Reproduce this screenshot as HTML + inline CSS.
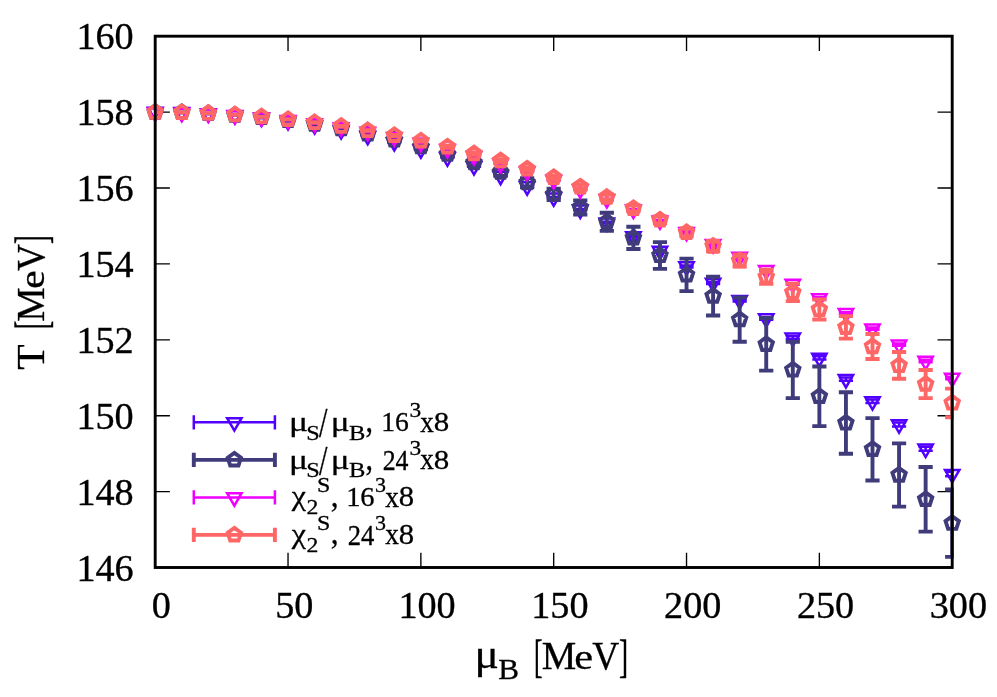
<!DOCTYPE html>
<html><head><meta charset="utf-8"><title>T vs mu_B</title>
<style>html,body{margin:0;padding:0;background:#fff}svg{display:block;will-change:transform}text{font-family:"Liberation Serif",serif;fill:#000}</style></head>
<body>
<svg width="997" height="697" viewBox="0 0 997 697">
<rect width="997" height="697" fill="#fff"/>
<defs><clipPath id="pc"><rect x="155.2" y="36.2" width="798.6" height="531.3"/></clipPath></defs>
<path d="M288.03 567.5v-14.7M288.03 36.2v14.7M420.87 567.5v-14.7M420.87 36.2v14.7M553.7 567.5v-14.7M553.7 36.2v14.7M686.53 567.5v-14.7M686.53 36.2v14.7M819.37 567.5v-14.7M819.37 36.2v14.7M155.2 491.6h14.7M952.2 491.6h-14.7M155.2 415.7h14.7M952.2 415.7h-14.7M155.2 339.8h14.7M952.2 339.8h-14.7M155.2 263.9h14.7M952.2 263.9h-14.7M155.2 188h14.7M952.2 188h-14.7M155.2 112.1h14.7M952.2 112.1h-14.7" stroke="#000" stroke-width="1.35" fill="none"/>
<g fill="none" stroke="#5200ff" stroke-width="2.5"><path clip-path="url(#pc)" d="M155.2 111.8V111.8M148.1 111.8H162.3M148.1 111.8H162.3M181.77 112.17V112.17M174.67 112.17H188.87M174.67 112.17H188.87M208.33 113.28V113.3M201.23 113.28H215.43M201.23 113.3H215.43M234.9 115.14V115.19M227.8 115.14H242M227.8 115.19H242M261.47 117.75V117.83M254.37 117.75H268.57M254.37 117.83H268.57M288.03 121.11V121.23M280.93 121.11H295.13M280.93 121.23H295.13M314.6 125.21V125.39M307.5 125.21H321.7M307.5 125.39H321.7M341.17 130.08V130.32M334.07 130.08H348.27M334.07 130.32H348.27M367.73 135.71V136.03M360.63 135.71H374.83M360.63 136.03H374.83M394.3 142.1V142.5M387.2 142.1H401.4M387.2 142.5H401.4M420.87 149.27V149.77M413.77 149.27H427.97M413.77 149.77H427.97M447.43 157.22V157.82M440.33 157.22H454.53M440.33 157.82H454.53M474 165.96V166.68M466.9 165.96H481.1M466.9 166.68H481.1M500.57 175.5V176.34M493.47 175.5H507.67M493.47 176.34H507.67M527.13 185.84V186.81M520.03 185.84H534.23M520.03 186.81H534.23M553.7 197V198.12M546.6 197H560.8M546.6 198.12H560.8M580.27 208.99V210.26M573.17 208.99H587.37M573.17 210.26H587.37M606.83 221.82V223.26M599.73 221.82H613.93M599.73 223.26H613.93M633.4 235.51V237.11M626.3 235.51H640.5M626.3 237.11H640.5M659.97 250.06V251.85M652.87 250.06H667.07M652.87 251.85H667.07M686.53 265.48V267.47M679.43 265.48H693.63M679.43 267.47H693.63M713.1 281.81V284M706 281.81H720.2M706 284H720.2M739.67 299.04V301.45M732.57 299.04H746.77M732.57 301.45H746.77M766.23 317.2V319.83M759.13 317.2H773.33M759.13 319.83H773.33M792.8 336.31V339.17M785.7 336.31H799.9M785.7 339.17H799.9M819.37 356.37V359.48M812.27 356.37H826.47M812.27 359.48H826.47M845.93 377.42V380.78M838.83 377.42H853.03M838.83 380.78H853.03M872.5 399.47V403.08M865.4 399.47H879.6M865.4 403.08H879.6M899.07 422.53V426.42M891.97 422.53H906.17M891.97 426.42H906.17M925.63 446.64V450.81M918.53 446.64H932.73M918.53 450.81H932.73M952.2 471.8V476.27M945.1 471.8H959.3M945.1 476.27H959.3"/><path stroke-linejoin="miter" d="M148.01 107.65L162.39 107.65L155.2 120.1ZM174.58 108.02L188.95 108.02L181.77 120.47ZM201.15 109.14L215.52 109.14L208.33 121.59ZM227.71 111.02L242.09 111.02L234.9 123.47ZM254.28 113.64L268.65 113.64L261.47 126.09ZM280.85 117.02L295.22 117.02L288.03 129.47ZM307.41 121.15L321.79 121.15L314.6 133.6ZM333.98 126.05L348.35 126.05L341.17 138.5ZM360.55 131.72L374.92 131.72L367.73 144.17ZM387.11 138.15L401.49 138.15L394.3 150.6ZM413.68 145.37L428.05 145.37L420.87 157.82ZM440.25 153.37L454.62 153.37L447.43 165.82ZM466.81 162.17L481.19 162.17L474 174.62ZM493.38 171.77L507.75 171.77L500.57 184.22ZM519.95 182.18L534.32 182.18L527.13 194.63ZM546.51 193.41L560.89 193.41L553.7 205.86ZM573.08 205.48L587.45 205.48L580.27 217.93ZM599.65 218.39L614.02 218.39L606.83 230.84ZM626.21 232.16L640.59 232.16L633.4 244.61ZM652.78 246.8L667.15 246.8L659.97 259.25ZM679.35 262.33L693.72 262.33L686.53 274.78ZM705.91 278.75L720.29 278.75L713.1 291.2ZM732.48 296.09L746.85 296.09L739.67 308.54ZM759.05 314.37L773.42 314.37L766.23 326.82ZM785.61 333.59L799.99 333.59L792.8 346.04ZM812.18 353.78L826.55 353.78L819.37 366.23ZM838.75 374.95L853.12 374.95L845.93 387.4ZM865.31 397.13L879.69 397.13L872.5 409.58ZM891.88 420.33L906.25 420.33L899.07 432.78ZM918.45 444.57L932.82 444.57L925.63 457.02ZM945.01 469.89L959.39 469.89L952.2 482.34Z"/></g>
<g fill="none" stroke="#403b7a" stroke-width="3.9"><path clip-path="url(#pc)" d="M155.2 112.1V112.1M148.1 112.1H162.3M148.1 112.1H162.3M181.77 112.43V112.43M174.67 112.43H188.87M174.67 112.43H188.87M208.33 113.42V113.43M201.23 113.42H215.43M201.23 113.43H215.43M234.9 115.07V115.1M227.8 115.07H242M227.8 115.1H242M261.47 117.37V117.47M254.37 117.37H268.57M254.37 117.47H268.57M288.03 120.33V120.55M280.93 120.33H295.13M280.93 120.55H295.13M314.6 123.96V124.39M307.5 123.96H321.7M307.5 124.39H321.7M341.17 128.25V129M334.07 128.25H348.27M334.07 129H348.27M367.73 133.22V134.42M360.63 133.22H374.83M360.63 134.42H374.83M394.3 138.87V140.71M387.2 138.87H401.4M387.2 140.71H401.4M420.87 145.22V147.9M413.77 145.22H427.97M413.77 147.9H427.97M447.43 152.26V156.04M440.33 152.26H454.53M440.33 156.04H454.53M474 160.03V165.19M466.9 160.03H481.1M466.9 165.19H481.1M500.57 168.77V175.66M493.47 168.77H507.67M493.47 175.66H507.67M527.13 178.19V187.18M520.03 178.19H534.23M520.03 187.18H534.23M553.7 188.8V200.03M546.6 188.8H560.8M546.6 200.03H560.8M580.27 200.33V214.6M573.17 200.33H587.37M573.17 214.6H587.37M606.83 212.78V230.85M599.73 212.78H613.93M599.73 230.85H613.93M633.4 226.82V248.99M626.3 226.82H640.5M626.3 248.99H640.5M659.97 242.08V268.87M652.87 242.08H667.07M652.87 268.87H667.07M686.53 258.66V291.15M679.43 258.66H693.63M679.43 291.15H693.63M713.1 276.69V315.47M706 276.69H720.2M706 315.47H720.2M739.67 297.52V341.7M732.57 297.52H746.77M732.57 341.7H746.77M766.23 317.98V370.65M759.13 317.98H773.33M759.13 370.65H773.33M792.8 341.77V398.09M785.7 341.77H799.9M785.7 398.09H799.9M819.37 366.52V426.1M812.27 366.52H826.47M812.27 426.1H826.47M845.93 392.28V453.69M838.83 392.28H853.03M838.83 453.69H853.03M872.5 418.13V480.44M865.4 418.13H879.6M865.4 480.44H879.6M899.07 443.4V506.63M891.97 443.4H906.17M891.97 506.63H906.17M925.63 467.01V531.6M918.53 467.01H932.73M918.53 531.6H932.73M952.2 489.55V556.87M945.1 489.55H959.3M945.1 556.87H959.3"/><path stroke-linejoin="miter" d="M155.2 105.1L161.86 109.94L159.31 117.76L151.09 117.76L148.54 109.94ZM181.77 105.43L188.42 110.27L185.88 118.09L177.65 118.09L175.11 110.27ZM208.33 106.42L214.99 111.26L212.45 119.09L204.22 119.09L201.68 111.26ZM234.9 108.08L241.56 112.92L239.01 120.75L230.79 120.75L228.24 112.92ZM261.47 110.42L268.12 115.26L265.58 123.08L257.35 123.08L254.81 115.26ZM288.03 113.44L294.69 118.28L292.15 126.11L283.92 126.11L281.38 118.28ZM314.6 117.17L321.26 122.01L318.71 129.84L310.49 129.84L307.94 122.01ZM341.17 121.62L347.82 126.46L345.28 134.29L337.05 134.29L334.51 126.46ZM367.73 126.82L374.39 131.66L371.85 139.48L363.62 139.48L361.08 131.66ZM394.3 132.79L400.96 137.63L398.41 145.45L390.19 145.45L387.64 137.63ZM420.87 139.56L427.52 144.4L424.98 152.22L416.75 152.22L414.21 144.4ZM447.43 147.15L454.09 151.99L451.55 159.81L443.32 159.81L440.78 151.99ZM474 155.61L480.66 160.45L478.11 168.27L469.89 168.27L467.34 160.45ZM500.57 165.21L507.22 170.05L504.68 177.88L496.45 177.88L493.91 170.05ZM527.13 175.69L533.79 180.52L531.25 188.35L523.02 188.35L520.48 180.52ZM553.7 187.41L560.36 192.25L557.81 200.08L549.59 200.08L547.04 192.25ZM580.27 200.47L586.92 205.31L584.38 213.13L576.15 213.13L573.61 205.31ZM606.83 214.81L613.49 219.65L610.95 227.48L602.72 227.48L600.18 219.65ZM633.4 230.9L640.06 235.74L637.51 243.57L629.29 243.57L626.74 235.74ZM659.97 248.48L666.62 253.31L664.08 261.14L655.85 261.14L653.31 253.31ZM686.53 267.91L693.19 272.74L690.65 280.57L682.42 280.57L679.88 272.74ZM713.1 289.08L719.76 293.92L717.21 301.74L708.99 301.74L706.44 293.92ZM739.67 312.61L746.32 317.45L743.78 325.27L735.55 325.27L733.01 317.45ZM766.23 337.32L772.89 342.15L770.35 349.98L762.12 349.98L759.58 342.15ZM792.8 362.93L799.46 367.77L796.91 375.6L788.69 375.6L786.14 367.77ZM819.37 389.31L826.02 394.14L823.48 401.97L815.25 401.97L812.71 394.14ZM845.93 415.99L852.59 420.82L850.05 428.65L841.82 428.65L839.28 420.82ZM872.5 442.29L879.16 447.12L876.61 454.95L868.39 454.95L865.84 447.12ZM899.07 468.02L905.72 472.85L903.18 480.68L894.95 480.68L892.41 472.85ZM925.63 492.3L932.29 497.14L929.75 504.97L921.52 504.97L918.98 497.14ZM952.2 516.21L958.86 521.05L956.31 528.88L948.09 528.88L945.54 521.05Z"/></g>
<g fill="none" stroke="#f000ff" stroke-width="2.5"><path clip-path="url(#pc)" d="M155.2 112.56V112.56M148.1 112.56H162.3M148.1 112.56H162.3M181.77 112.85V112.87M174.67 112.85H188.87M174.67 112.87H188.87M208.33 113.75V113.79M201.23 113.75H215.43M201.23 113.79H215.43M234.9 115.25V115.33M227.8 115.25H242M227.8 115.33H242M261.47 117.36V117.48M254.37 117.36H268.57M254.37 117.48H268.57M288.03 120.06V120.24M280.93 120.06H295.13M280.93 120.24H295.13M314.6 123.38V123.6M307.5 123.38H321.7M307.5 123.6H321.7M341.17 127.29V127.57M334.07 127.29H348.27M334.07 127.57H348.27M367.73 131.8V132.15M360.63 131.8H374.83M360.63 132.15H374.83M394.3 136.91V137.33M387.2 136.91H401.4M387.2 137.33H401.4M420.87 142.62V143.1M413.77 142.62H427.97M413.77 143.1H427.97M447.43 148.93V149.48M440.33 148.93H454.53M440.33 149.48H454.53M474 155.82V156.46M466.9 155.82H481.1M466.9 156.46H481.1M500.57 163.23V163.95M493.47 163.23H507.67M493.47 163.95H507.67M527.13 171.23V172.03M520.03 171.23H534.23M520.03 172.03H534.23M553.7 179.81V180.7M546.6 179.81H560.8M546.6 180.7H560.8M580.27 188.98V189.95M573.17 188.98H587.37M573.17 189.95H587.37M606.83 198.72V199.79M599.73 198.72H613.93M599.73 199.79H613.93M633.4 209.04V210.2M626.3 209.04H640.5M626.3 210.2H640.5M659.97 219.92V221.18M652.87 219.92H667.07M652.87 221.18H667.07M686.53 231.37V232.74M679.43 231.37H693.63M679.43 232.74H693.63M713.1 243.46V244.93M706 243.46H720.2M706 244.93H720.2M739.67 256.11V257.68M732.57 256.11H746.77M732.57 257.68H746.77M766.23 269.31V270.99M759.13 269.31H773.33M759.13 270.99H773.33M792.8 283.06V284.85M785.7 283.06H799.9M785.7 284.85H799.9M819.37 297.34V299.25M812.27 297.34H826.47M812.27 299.25H826.47M845.93 312.17V314.19M838.83 312.17H853.03M838.83 314.19H853.03M872.5 327.53V329.66M865.4 327.53H879.6M865.4 329.66H879.6M899.07 343.41V345.67M891.97 343.41H906.17M891.97 345.67H906.17M925.63 359.81V362.19M918.53 359.81H932.73M918.53 362.19H932.73M952.2 376.72V379.22M945.1 376.72H959.3M945.1 379.22H959.3"/><path stroke-linejoin="miter" d="M148.01 108.41L162.39 108.41L155.2 120.86ZM174.58 108.71L188.95 108.71L181.77 121.16ZM201.15 109.62L215.52 109.62L208.33 122.07ZM227.71 111.14L242.09 111.14L234.9 123.59ZM254.28 113.27L268.65 113.27L261.47 125.72ZM280.85 116L295.22 116L288.03 128.45ZM307.41 119.34L321.79 119.34L314.6 131.79ZM333.98 123.28L348.35 123.28L341.17 135.73ZM360.55 127.82L374.92 127.82L367.73 140.27ZM387.11 132.97L401.49 132.97L394.3 145.42ZM413.68 138.71L428.05 138.71L420.87 151.16ZM440.25 145.05L454.62 145.05L447.43 157.5ZM466.81 151.99L481.19 151.99L474 164.44ZM493.38 159.44L507.75 159.44L500.57 171.89ZM519.95 167.48L534.32 167.48L527.13 179.93ZM546.51 176.11L560.89 176.11L553.7 188.56ZM573.08 185.32L587.45 185.32L580.27 197.77ZM599.65 195.1L614.02 195.1L606.83 207.55ZM626.21 205.47L640.59 205.47L633.4 217.92ZM652.78 216.4L667.15 216.4L659.97 228.85ZM679.35 227.91L693.72 227.91L686.53 240.36ZM705.91 240.05L720.29 240.05L713.1 252.5ZM732.48 252.75L746.85 252.75L739.67 265.2ZM759.05 266L773.42 266L766.23 278.45ZM785.61 279.8L799.99 279.8L792.8 292.25ZM812.18 294.15L826.55 294.15L819.37 306.6ZM838.75 309.03L853.12 309.03L845.93 321.48ZM865.31 324.45L879.69 324.45L872.5 336.9ZM891.88 340.39L906.25 340.39L899.07 352.84ZM918.45 356.85L932.82 356.85L925.63 369.3ZM945.01 373.82L959.39 373.82L952.2 386.27Z"/></g>
<g fill="none" stroke="#ff6666" stroke-width="3.9"><path clip-path="url(#pc)" d="M155.2 112.1V112.1M148.1 112.1H162.3M148.1 112.1H162.3M181.77 112.39V112.39M174.67 112.39H188.87M174.67 112.39H188.87M208.33 113.24V113.26M201.23 113.24H215.43M201.23 113.26H215.43M234.9 114.65V114.72M227.8 114.65H242M227.8 114.72H242M261.47 116.63V116.77M254.37 116.63H268.57M254.37 116.77H268.57M288.03 119.17V119.42M280.93 119.17H295.13M280.93 119.42H295.13M314.6 122.26V122.65M307.5 122.26H321.7M307.5 122.65H321.7M341.17 125.91V126.48M334.07 125.91H348.27M334.07 126.48H348.27M367.73 130.11V130.91M360.63 130.11H374.83M360.63 130.91H374.83M394.3 134.86V135.94M387.2 134.86H401.4M387.2 135.94H401.4M420.87 140.2V141.61M413.77 140.2H427.97M413.77 141.61H427.97M447.43 146.04V147.83M440.33 146.04H454.53M440.33 147.83H454.53M474 152.47V154.69M466.9 152.47H481.1M466.9 154.69H481.1M500.57 159.32V162.03M493.47 159.32H507.67M493.47 162.03H507.67M527.13 167.16V170.43M520.03 167.16H534.23M520.03 170.43H534.23M553.7 175.47V179.35M546.6 175.47H560.8M546.6 179.35H560.8M580.27 184.5V189.07M573.17 184.5H587.37M573.17 189.07H587.37M606.83 194.61V199.91M599.73 194.61H613.93M599.73 199.91H613.93M633.4 205.24V211.37M626.3 205.24H640.5M626.3 211.37H640.5M659.97 216.33V223.35M652.87 216.33H667.07M652.87 223.35H667.07M686.53 228.45V236.42M679.43 228.45H693.63M679.43 236.42H693.63M713.1 240.94V251.19M706 240.94H720.2M706 251.19H720.2M739.67 254.68V266.44M732.57 254.68H746.77M732.57 266.44H746.77M766.23 269.78V283.82M759.13 269.78H773.33M759.13 283.82H773.33M792.8 283.63V301.09M785.7 283.63H799.9M785.7 301.09H799.9M819.37 299.44V319.44M812.27 299.44H826.47M812.27 319.44H826.47M845.93 316.16V338.62M838.83 316.16H853.03M838.83 338.62H853.03M872.5 334.03V359M865.4 334.03H879.6M865.4 359H879.6M899.07 352.02V378.81M891.97 352.02H906.17M891.97 378.81H906.17M925.63 370.01V398.17M918.53 370.01H932.73M918.53 398.17H932.73M952.2 388.6V417.22M945.1 388.6H959.3M945.1 417.22H959.3"/><path stroke-linejoin="miter" d="M155.2 105.1L161.86 109.94L159.31 117.76L151.09 117.76L148.54 109.94ZM181.77 105.39L188.42 110.22L185.88 118.05L177.65 118.05L175.11 110.22ZM208.33 106.25L214.99 111.09L212.45 118.91L204.22 118.91L201.68 111.09ZM234.9 107.69L241.56 112.53L239.01 120.35L230.79 120.35L228.24 112.53ZM261.47 109.7L268.12 114.54L265.58 122.37L257.35 122.37L254.81 114.54ZM288.03 112.29L294.69 117.13L292.15 124.95L283.92 124.95L281.38 117.13ZM314.6 115.46L321.26 120.29L318.71 128.12L310.49 128.12L307.94 120.29ZM341.17 119.2L347.82 124.03L345.28 131.86L337.05 131.86L334.51 124.03ZM367.73 123.51L374.39 128.35L371.85 136.17L363.62 136.17L361.08 128.35ZM394.3 128.4L400.96 133.24L398.41 141.06L390.19 141.06L387.64 133.24ZM420.87 133.9L427.52 138.74L424.98 146.57L416.75 146.57L414.21 138.74ZM447.43 139.94L454.09 144.77L451.55 152.6L443.32 152.6L440.78 144.77ZM474 146.58L480.66 151.42L478.11 159.24L469.89 159.24L467.34 151.42ZM500.57 153.68L507.22 158.51L504.68 166.34L496.45 166.34L493.91 158.51ZM527.13 161.8L533.79 166.63L531.25 174.46L523.02 174.46L520.48 166.63ZM553.7 170.41L560.36 175.25L557.81 183.08L549.59 183.08L547.04 175.25ZM580.27 179.79L586.92 184.62L584.38 192.45L576.15 192.45L573.61 184.62ZM606.83 190.26L613.49 195.1L610.95 202.92L602.72 202.92L600.18 195.1ZM633.4 201.3L640.06 206.14L637.51 213.97L629.29 213.97L626.74 206.14ZM659.97 212.84L666.62 217.68L664.08 225.5L655.85 225.5L653.31 217.68ZM686.53 225.44L693.19 230.28L690.65 238.1L682.42 238.1L679.88 230.28ZM713.1 239.06L719.76 243.9L717.21 251.73L708.99 251.73L706.44 243.9ZM739.67 253.56L746.32 258.4L743.78 266.22L735.55 266.22L733.01 258.4ZM766.23 269.8L772.89 274.64L770.35 282.47L762.12 282.47L759.58 274.64ZM792.8 285.36L799.46 290.2L796.91 298.03L788.69 298.03L786.14 290.2ZM819.37 302.44L826.02 307.28L823.48 315.1L815.25 315.1L812.71 307.28ZM845.93 320.39L852.59 325.23L850.05 333.05L841.82 333.05L839.28 325.23ZM872.5 339.52L879.16 344.35L876.61 352.18L868.39 352.18L865.84 344.35ZM899.07 358.42L905.72 363.25L903.18 371.08L894.95 371.08L892.41 363.25ZM925.63 377.09L932.29 381.92L929.75 389.75L921.52 389.75L918.98 381.92ZM952.2 395.91L958.86 400.75L956.31 408.57L948.09 408.57L945.54 400.75Z"/></g>
<g fill="none" stroke="#5200ff" stroke-width="2.5"><path d="M193.8 422.3H274.9M193.8 415.2V429.4M274.9 415.2V429.4"/><path d="M227.16 418.15L241.54 418.15L234.35 430.6Z"/></g>
<g fill="none" stroke="#403b7a" stroke-width="3.9"><path d="M193.8 459.85H274.9M193.8 452.75V466.95M274.9 452.75V466.95"/><path d="M234.35 452.85L241.01 457.69L238.46 465.51L230.24 465.51L227.69 457.69Z"/></g>
<g fill="none" stroke="#f000ff" stroke-width="2.5"><path d="M193.8 497.4H274.9M193.8 490.3V504.5M274.9 490.3V504.5"/><path d="M227.16 493.25L241.54 493.25L234.35 505.7Z"/></g>
<g fill="none" stroke="#ff6666" stroke-width="3.9"><path d="M193.8 534.9H274.9M193.8 527.8V542M274.9 527.8V542"/><path d="M234.35 527.9L241.01 532.74L238.46 540.56L230.24 540.56L227.69 532.74Z"/></g>
<rect x="155.2" y="36.2" width="797" height="531.3" fill="none" stroke="#000" stroke-width="2.9"/>
<g font-size="38.2px" stroke="#000" stroke-width="0.35"><text x="133.7" y="580.6" text-anchor="end">146</text><text x="133.7" y="504.7" text-anchor="end">148</text><text x="133.7" y="428.8" text-anchor="end">150</text><text x="133.7" y="352.9" text-anchor="end">152</text><text x="133.7" y="277" text-anchor="end">154</text><text x="133.7" y="201.1" text-anchor="end">156</text><text x="133.7" y="125.2" text-anchor="end">158</text><text x="133.7" y="49.3" text-anchor="end">160</text><text x="161.4" y="617.8" text-anchor="middle">0</text><text x="294.23" y="617.8" text-anchor="middle">50</text><text x="427.07" y="617.8" text-anchor="middle">100</text><text x="559.9" y="617.8" text-anchor="middle">150</text><text x="692.73" y="617.8" text-anchor="middle">200</text><text x="825.57" y="617.8" text-anchor="middle">250</text><text x="958.4" y="617.8" text-anchor="middle">300</text></g>
<text transform="matrix(0.4548 0 0 0.3940 474.56 667.73)" font-size="100px" stroke="#000" stroke-width="0.71" >μ</text><text transform="matrix(0.3119 0 0 0.2938 498.36 679.40)" font-size="100px" stroke="#000" stroke-width="0.99" >B</text><text transform="matrix(0.2565 0 0 0.4610 534.10 671.81)" font-size="100px" stroke="#000" stroke-width="0.84" >[</text><text transform="matrix(0.3880 0 0 0.4015 541.64 668.60)" font-size="100px" stroke="#000" stroke-width="0.76" >M</text><text transform="matrix(0.4243 0 0 0.3667 574.30 668.63)" font-size="100px" stroke="#000" stroke-width="0.76" >e</text><text transform="matrix(0.3743 0 0 0.4045 592.23 668.79)" font-size="100px" stroke="#000" stroke-width="0.77" >V</text><text transform="matrix(0.2727 0 0 0.4610 619.11 671.81)" font-size="100px" stroke="#000" stroke-width="0.82" >]</text>
<g transform="translate(44.0 327.4) rotate(-90) translate(-535.9 -668.6)"><text transform="matrix(0.2565 0 0 0.4610 534.10 671.81)" font-size="100px" stroke="#000" stroke-width="0.84" >[</text><text transform="matrix(0.3880 0 0 0.4015 541.64 668.60)" font-size="100px" stroke="#000" stroke-width="0.76" >M</text><text transform="matrix(0.4243 0 0 0.3667 574.30 668.63)" font-size="100px" stroke="#000" stroke-width="0.76" >e</text><text transform="matrix(0.3743 0 0 0.4045 592.23 668.79)" font-size="100px" stroke="#000" stroke-width="0.77" >V</text><text transform="matrix(0.2727 0 0 0.4610 619.11 671.81)" font-size="100px" stroke="#000" stroke-width="0.82" >]</text><text transform="matrix(0.4158 0 0 0.3985 493.47 668.60)" font-size="100px" stroke="#000" stroke-width="0.74" >T</text></g>
<text transform="matrix(0.3571 0 0 0.2821 288.94 431.38)" font-size="100px" stroke="#000" stroke-width="0.94" >μ</text><text transform="matrix(0.2429 0 0 0.2164 306.30 439.77)" font-size="100px" stroke="#000" stroke-width="1.31" >S</text><text transform="matrix(0.3036 0 0 0.4182 319.10 437.18)" font-size="100px" stroke="#000" stroke-width="0.83" >/</text><text transform="matrix(0.3524 0 0 0.2821 330.78 431.38)" font-size="100px" stroke="#000" stroke-width="0.95" >μ</text><text transform="matrix(0.2458 0 0 0.2154 349.06 439.70)" font-size="100px" stroke="#000" stroke-width="1.30" >B</text><text transform="matrix(0.3000 0 0 0.3480 365.60 432.08)" font-size="100px" stroke="#000" stroke-width="0.93" >,</text><text transform="matrix(0.2761 0 0 0.2794 381.21 431.44)" font-size="100px" stroke="#000" stroke-width="1.08" >16</text><text transform="matrix(0.2341 0 0 0.2182 409.43 417.38)" font-size="100px" stroke="#000" stroke-width="1.33" >3</text><text transform="matrix(0.2708 0 0 0.2870 420.33 431.60)" font-size="100px" stroke="#000" stroke-width="1.08" >x</text><text transform="matrix(0.3095 0 0 0.2836 433.66 431.43)" font-size="100px" stroke="#000" stroke-width="1.01" >8</text>
<text transform="matrix(0.3571 0 0 0.2821 288.94 468.93)" font-size="100px" stroke="#000" stroke-width="0.94" >μ</text><text transform="matrix(0.2429 0 0 0.2164 306.30 477.32)" font-size="100px" stroke="#000" stroke-width="1.31" >S</text><text transform="matrix(0.3036 0 0 0.4182 319.10 474.73)" font-size="100px" stroke="#000" stroke-width="0.83" >/</text><text transform="matrix(0.3524 0 0 0.2821 330.78 468.93)" font-size="100px" stroke="#000" stroke-width="0.95" >μ</text><text transform="matrix(0.2458 0 0 0.2154 349.06 477.25)" font-size="100px" stroke="#000" stroke-width="1.30" >B</text><text transform="matrix(0.3000 0 0 0.3480 365.60 469.63)" font-size="100px" stroke="#000" stroke-width="0.93" >,</text><text transform="matrix(0.2585 0 0 0.2923 382.67 469.55)" font-size="100px" stroke="#000" stroke-width="1.09" >24</text><text transform="matrix(0.2341 0 0 0.2182 409.43 454.93)" font-size="100px" stroke="#000" stroke-width="1.33" >3</text><text transform="matrix(0.2708 0 0 0.2870 420.33 469.15)" font-size="100px" stroke="#000" stroke-width="1.08" >x</text><text transform="matrix(0.3095 0 0 0.2836 433.66 468.98)" font-size="100px" stroke="#000" stroke-width="1.01" >8</text>
<text transform="matrix(0.3205 0 0 0.2821 291.70 505.38)" font-size="100px" stroke="#000" stroke-width="1.00" >χ</text><text transform="matrix(0.2375 0 0 0.2138 306.55 514.00)" font-size="100px" stroke="#000" stroke-width="1.33" >2</text><text transform="matrix(0.2405 0 0 0.2104 317.02 492.38)" font-size="100px" stroke="#000" stroke-width="1.33" >S</text><text transform="matrix(0.3133 0 0 0.3400 330.75 506.60)" font-size="100px" stroke="#000" stroke-width="0.92" >,</text><text transform="matrix(0.2847 0 0 0.2809 346.14 506.44)" font-size="100px" stroke="#000" stroke-width="1.06" >16</text><text transform="matrix(0.2195 0 0 0.2152 374.90 492.28)" font-size="100px" stroke="#000" stroke-width="1.38" >3</text><text transform="matrix(0.2729 0 0 0.2891 385.13 506.60)" font-size="100px" stroke="#000" stroke-width="1.07" >x</text><text transform="matrix(0.3071 0 0 0.2851 398.67 506.43)" font-size="100px" stroke="#000" stroke-width="1.01" >8</text>
<text transform="matrix(0.3205 0 0 0.2821 291.70 542.98)" font-size="100px" stroke="#000" stroke-width="1.00" >χ</text><text transform="matrix(0.2375 0 0 0.2138 306.55 551.60)" font-size="100px" stroke="#000" stroke-width="1.33" >2</text><text transform="matrix(0.2405 0 0 0.2104 317.02 529.98)" font-size="100px" stroke="#000" stroke-width="1.33" >S</text><text transform="matrix(0.3133 0 0 0.3400 330.75 544.20)" font-size="100px" stroke="#000" stroke-width="0.92" >,</text><text transform="matrix(0.2665 0 0 0.2938 347.63 544.60)" font-size="100px" stroke="#000" stroke-width="1.07" >24</text><text transform="matrix(0.2195 0 0 0.2152 374.90 529.88)" font-size="100px" stroke="#000" stroke-width="1.38" >3</text><text transform="matrix(0.2729 0 0 0.2891 385.13 544.20)" font-size="100px" stroke="#000" stroke-width="1.07" >x</text><text transform="matrix(0.3071 0 0 0.2851 398.67 544.03)" font-size="100px" stroke="#000" stroke-width="1.01" >8</text>
</svg>
</body></html>
